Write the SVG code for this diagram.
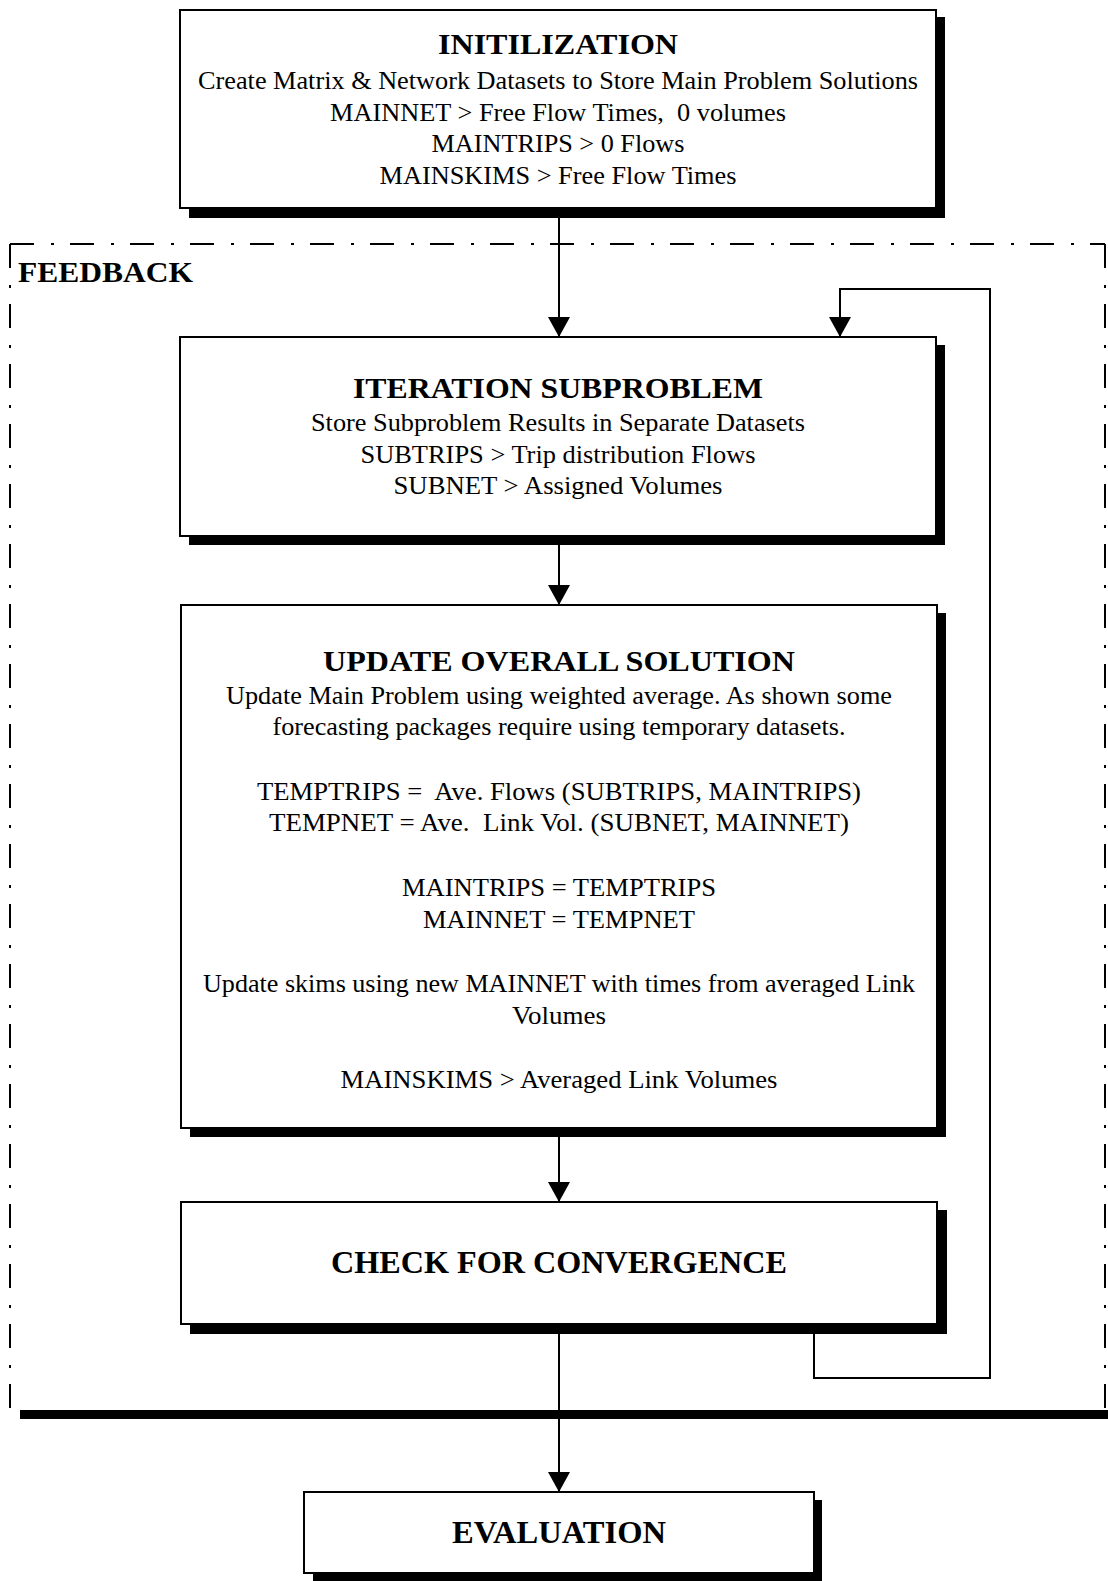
<svg xmlns="http://www.w3.org/2000/svg" width="1108" height="1581" viewBox="0 0 1108 1581">
  <defs>
    <style>
      .box { fill: #fff; stroke: #000; stroke-width: 2; }
      .shadow { fill: #000; }
      .title { font-family: "Liberation Serif", "Times New Roman", serif; font-weight: bold; font-size: 30px; fill: #000; text-anchor: middle; }
      .body { font-family: "Liberation Serif", "Times New Roman", serif; font-size: 25px; fill: #000; text-anchor: middle; }
      .frame { fill: none; stroke: #000; stroke-width: 2; stroke-dasharray: 24 17 3 16; }
      .link { fill: none; stroke: #000; stroke-width: 2; }
    </style>
    <marker id="arrow" markerUnits="userSpaceOnUse" markerWidth="24" markerHeight="22" refX="20" refY="11" orient="auto">
      <path d="M0,0 L20,11 L0,22 Z" fill="#000"/>
    </marker>
  </defs>

  <!-- feedback loop frame -->
  <g id="feedback">
    <path class="frame" d="M10,244 H1105"/>
    <path class="frame" d="M10,244 V1408"/>
    <path class="frame" d="M1105,244 V1410"/>
    <rect x="20" y="1410" width="1088" height="9" fill="#000"/>
    <text x="18" y="282" class="title" style="text-anchor:start" textLength="175" lengthAdjust="spacingAndGlyphs">FEEDBACK</text>
  </g>

  <!-- connectors -->
  <g id="connectors">
    <path class="link" d="M559,208 V337" marker-end="url(#arrow)"/>
    <path class="link" d="M559,545 V605" marker-end="url(#arrow)"/>
    <path class="link" d="M559,1137 V1202" marker-end="url(#arrow)"/>
    <path class="link" d="M559,1334 V1492" marker-end="url(#arrow)"/>
    <path class="link" d="M814,1334 V1378 H990 V289 H840 V337" marker-end="url(#arrow)"/>
  </g>

  <!-- initialization -->
  <g id="initialization">
    <rect class="shadow" x="189" y="17" width="756" height="201"/>
    <rect class="box" x="180" y="10" width="756" height="198"/>
    <text x="558" y="54" class="title" textLength="240" lengthAdjust="spacingAndGlyphs">INITILIZATION</text>
    <text x="558" y="89" class="body" textLength="720" lengthAdjust="spacingAndGlyphs">Create Matrix &amp; Network Datasets to Store Main Problem Solutions</text>
    <text x="558" y="120.5" class="body" textLength="456" lengthAdjust="spacingAndGlyphs" xml:space="preserve">MAINNET &gt; Free Flow Times,  0 volumes</text>
    <text x="558" y="152" class="body" textLength="253" lengthAdjust="spacingAndGlyphs">MAINTRIPS &gt; 0 Flows</text>
    <text x="558" y="183.5" class="body" textLength="357" lengthAdjust="spacingAndGlyphs">MAINSKIMS &gt; Free Flow Times</text>
  </g>

  <!-- iteration subproblem -->
  <g id="iteration">
    <rect class="shadow" x="189" y="345" width="756" height="200"/>
    <rect class="box" x="180" y="337" width="756" height="199"/>
    <text x="558" y="398" class="title" textLength="410" lengthAdjust="spacingAndGlyphs">ITERATION SUBPROBLEM</text>
    <text x="558" y="431" class="body" textLength="494" lengthAdjust="spacingAndGlyphs">Store Subproblem Results in Separate Datasets</text>
    <text x="558" y="463" class="body" textLength="395" lengthAdjust="spacingAndGlyphs">SUBTRIPS &gt; Trip distribution Flows</text>
    <text x="558" y="494" class="body" textLength="329" lengthAdjust="spacingAndGlyphs">SUBNET &gt; Assigned Volumes</text>
  </g>

  <!-- update overall solution -->
  <g id="update">
    <rect class="shadow" x="190" y="613" width="756" height="524"/>
    <rect class="box" x="181" y="605" width="756" height="523"/>
    <text x="559" y="671" class="title" textLength="472" lengthAdjust="spacingAndGlyphs">UPDATE OVERALL SOLUTION</text>
    <text x="559" y="703.5" class="body" textLength="666" lengthAdjust="spacingAndGlyphs">Update Main Problem using weighted average. As shown some</text>
    <text x="559" y="735" class="body" textLength="573" lengthAdjust="spacingAndGlyphs">forecasting packages require using temporary datasets.</text>
    <text x="559" y="799.5" class="body" textLength="604" lengthAdjust="spacingAndGlyphs" xml:space="preserve">TEMPTRIPS =  Ave. Flows (SUBTRIPS, MAINTRIPS)</text>
    <text x="559" y="831" class="body" textLength="580" lengthAdjust="spacingAndGlyphs" xml:space="preserve">TEMPNET = Ave.  Link Vol. (SUBNET, MAINNET)</text>
    <text x="559" y="895.5" class="body" textLength="314" lengthAdjust="spacingAndGlyphs">MAINTRIPS = TEMPTRIPS</text>
    <text x="559" y="927.5" class="body" textLength="272" lengthAdjust="spacingAndGlyphs">MAINNET = TEMPNET</text>
    <text x="559" y="991.5" class="body" textLength="712" lengthAdjust="spacingAndGlyphs">Update skims using new MAINNET with times from averaged Link</text>
    <text x="559" y="1023.5" class="body" textLength="94" lengthAdjust="spacingAndGlyphs">Volumes</text>
    <text x="559" y="1088" class="body" textLength="437" lengthAdjust="spacingAndGlyphs">MAINSKIMS &gt; Averaged Link Volumes</text>
  </g>

  <!-- convergence check -->
  <g id="check">
    <rect class="shadow" x="190" y="1210" width="757" height="124"/>
    <rect class="box" x="181" y="1202" width="756" height="122"/>
    <text x="559" y="1273" class="title" style="font-size:31px" textLength="456" lengthAdjust="spacingAndGlyphs">CHECK FOR CONVERGENCE</text>
  </g>

  <!-- evaluation -->
  <g id="evaluation">
    <rect class="shadow" x="313" y="1500" width="509" height="81"/>
    <rect class="box" x="304" y="1492" width="510" height="81"/>
    <text x="559" y="1543" class="title" style="font-size:31px" textLength="214" lengthAdjust="spacingAndGlyphs">EVALUATION</text>
  </g>
</svg>
